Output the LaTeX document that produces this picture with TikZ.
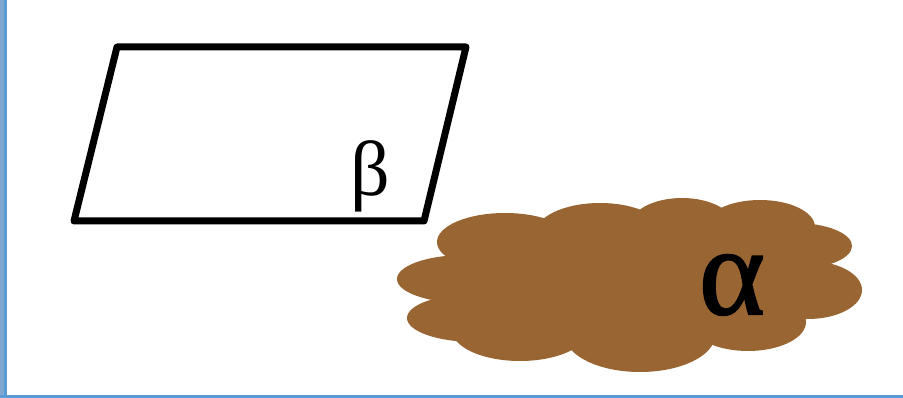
\documentclass[tikz,border=0pt]{standalone}
\usepackage{fontspec}
\newfontfamily\greekfont{Liberation Serif}
\newfontfamily\greekheavy[FakeBold=1.5]{Liberation Serif}
\definecolor{cloudbrown}{HTML}{996633}
\definecolor{frameblue}{HTML}{5B9BD5}
\definecolor{frameblueL}{HTML}{7FA7D0}
\begin{document}
\begin{tikzpicture}[x=1pt,y=-1pt,
  plane/.style={draw=black,line width=7pt,line join=round},
  lobe/.style={fill=cloudbrown,draw=none},
  greek/.style={inner sep=0pt,font=\greekfont}]
\useasboundingbox (0,0) rectangle (903,398);
\fill[white] (0,0) rectangle (903,398);
% frame
\fill[frameblueL] (0,0) rectangle (5,398);
\fill[frameblue] (4,0) rectangle (6.5,398);
\fill[frameblue] (0,395) rectangle (903,398);
% plane beta
\draw[plane] (117,47) -- (466,47) -- (424,221) -- (74,221) -- cycle;
\node[greek,font=\greekfont\fontsize{78}{78}\selectfont] (beta) at (370,176) {β};
% cloud alpha
\foreach \cx/\cy/\rx/\ry in {465/279/68/24, 475/318/68/24, 505/242/68/29,
  600/234/65/31, 682/226/52/28, 760/227/55/27, 795/246/57/23, 808/290/54/29,
  748/322/58/29, 640/335/75/37, 520/330/68/31, 640/282/190/68}
  \fill[lobe] (\cx,\cy) ellipse [x radius=\rx, y radius=\ry];
\node[greek,font=\greekheavy\fontsize{126}{126}\selectfont] (alpha) at (732,285) {α};
\end{tikzpicture}
\end{document}
